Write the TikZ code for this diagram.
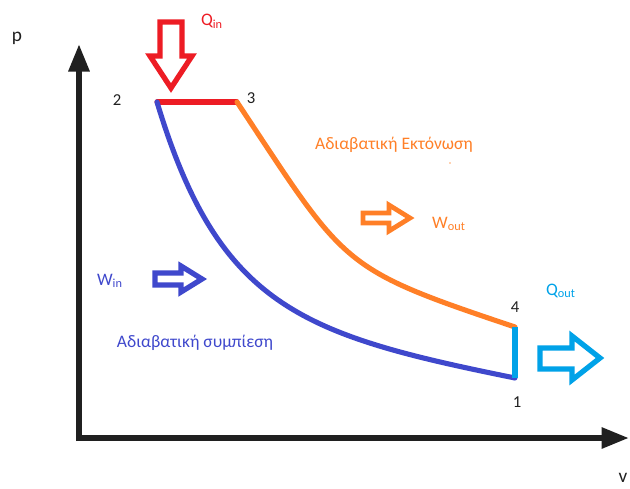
\documentclass[tikz,border=0pt]{standalone}
\usepackage{fontspec}
\setmainfont{Carlito}
\usetikzlibrary{arrows.meta}
\definecolor{paintred}{HTML}{ED1C24}
\definecolor{paintorange}{HTML}{FF7F27}
\definecolor{paintblue}{HTML}{3F48CC}
\definecolor{paintcyan}{HTML}{00A2E8}
\definecolor{ink}{HTML}{202020}

\begin{document}
\begin{tikzpicture}[x=0.02cm, y=-0.02cm,
	every node/.style={font=\fontsize{10}{12}\selectfont, inner sep=0pt},
	axis/.style={line width=3.4pt, ink, -{Triangle[length=5.5mm, width=4mm]}},
	stroke/.style={line width=2.9pt, line cap=round},
	fat/.style={line width=3pt, line join=miter, fill=white},
	num/.style={ink, font=\fontsize{9.5}{11}\selectfont}]
	\useasboundingbox (0,0) rectangle (630,488);
	% axes
	\coordinate (o) at (79,441);
	\coordinate (ytip) at (79,44);
	\coordinate (xtip) at (629,438);
	\draw[axis] (o) -- (ytip);
	\draw[axis] (76,438) -- (xtip);
	\node[ink, font=\fontsize{11}{13}\selectfont] (p) at (17,38) {p};
	\node[ink, font=\fontsize{11}{13}\selectfont] (v) at (623,478) {v};
	% states
	\coordinate (s1) at (515,378);
	\coordinate (s2) at (157,102);
	\coordinate (s3) at (237,102);
	\coordinate (s4) at (515,327);
	\node[num] (n1) at (517,402) {1};
	\node[num] (n2) at (117,100) {2};
	\node[num] (n3) at (251,98) {3};
	\node[num] (n4) at (515,307) {4};
	% cycle
	\draw[stroke, paintred] (s2) -- (s3);
	\draw[stroke, paintblue] (s2) .. controls +(62,206) and +(-212,-43) .. (s1);
	\draw[stroke, paintorange] (s3) .. controls +(110,166) and +(-176,-59) .. (s4);
	\draw[line width=2.9pt, paintcyan] (s4) -- (s1);
	% heat and work arrows
	\draw[fat, draw=paintred] (160,22) -- (182,22) -- (182,56) -- (192,56) -- (171,88) -- (150,56) -- (160,56) -- cycle;
	\draw[fat, draw=paintcyan] (540,348) -- (572,348) -- (572,336) -- (600,358) -- (572,380) -- (572,369) -- (540,369) -- cycle;
	\draw[fat, line width=2.7pt, draw=paintorange] (363,213) -- (389,213) -- (389,205) -- (410,218) -- (389,231) -- (389,223) -- (363,223) -- cycle;
	\draw[fat, draw=paintblue] (155,273) -- (181,273) -- (181,266) -- (202,279) -- (181,292) -- (181,285) -- (155,285) -- cycle;
	% labels
	\node[paintred] (qin) at (212,21) {Q\textsubscript{in}};
	\node[paintcyan] (qout) at (561,291) {Q\textsubscript{out}};
	\node[paintorange] (wout) at (449,224) {W\textsubscript{out}};
	\node[paintblue] (win) at (110,281) {W\textsubscript{in}};
	\node[paintorange] (exp) at (394,145) {Αδιαβατική Εκτόνωση};
	\node[paintblue] (comp) at (195,343) {Αδιαβατική συμπίεση};
	\fill[paintorange!70] (450,163) circle (0.8);
\end{tikzpicture}
\end{document}
